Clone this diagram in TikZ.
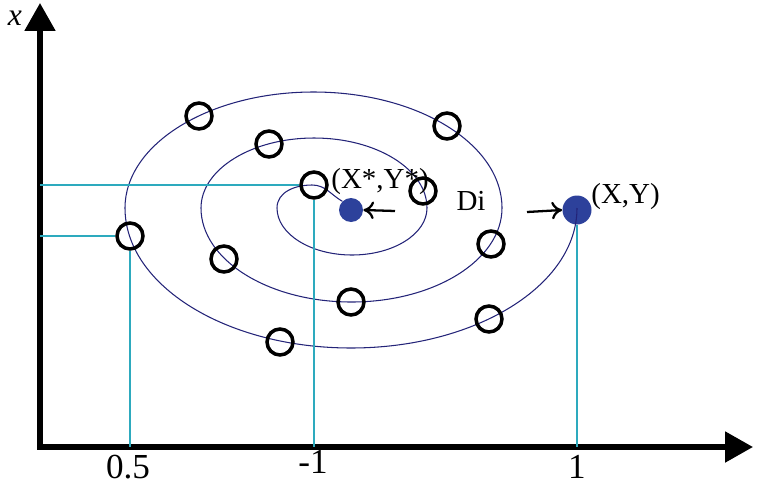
\documentclass[tikz,border=0pt]{standalone}
\usepackage{fontspec}
\setmainfont{Liberation Serif}
\usepackage{tikz}
\usetikzlibrary{arrows.meta,positioning,calc}
\definecolor{navy}{RGB}{35,35,120}
\definecolor{dotblue}{RGB}{45,65,155}
\definecolor{guidec}{RGB}{45,170,190}
\tikzset{
  smp/.style   = {circle, draw, minimum size=0.52cm, inner sep=0pt,
                  line width=2pt},
  bdot/.style  = {circle, fill=dotblue, minimum size=0.48cm, inner sep=0pt},
  bdotl/.style = {bdot, minimum size=0.58cm},
  axs/.style   = {line width=3pt, line join=miter,
                  {Triangle[length=0.56cm,width=0.6cm]}-{Triangle[length=0.56cm,width=0.6cm]}},
  guide/.style = {draw=guidec, line width=1.1pt},
  spir/.style  = {draw=navy, line width=0.6pt},
  arr/.style   = {line width=1.3pt, -{To[length=6pt,width=10pt]}},
  lbl/.style   = {font=\fontsize{16.5}{19}\selectfont, inner sep=0pt},
  num/.style   = {font=\fontsize{20}{22}\selectfont, inner sep=0pt},
}
\begin{document}
\begin{tikzpicture}[x=0.02cm,y=0.02cm]
  \useasboundingbox (0,0) rectangle (767,485);
  % axes
  \coordinate (o) at (40,38);
  \coordinate (ytip) at (40,482);
  \coordinate (xtip) at (753,38);
  \draw[axs] (ytip) -- (o) -- (xtip);
  \node[lbl, font=\fontsize{18}{20}\selectfont\itshape] (xl) at (15,467) {x};
  % points
  \node[bdot] (in) at (351,275) {};
  \node[bdotl] (xy) at (577,275) {};
  % spiral
  \draw[spir] (in.north west) to[out=150,in=0] (312,300) to[out=180,in=90] (277,277)
    arc[start angle=180,end angle=360,x radius=75,y radius=47]
    arc[start angle=0,end angle=180,x radius=113,y radius=70]
    arc[start angle=180,end angle=360,x radius=150.5,y radius=94]
    arc[start angle=0,end angle=180,x radius=188.5,y radius=116]
    arc[start angle=180,end angle=360,x radius=226,y radius=140];
  % samples
  \node[smp] (c1)  at (199,369) {};
  \node[smp] (c2)  at (269,341) {};
  \node[smp] (c3)  at (314,300) {};
  \node[smp] (c4)  at (423,294) {};
  \node[smp] (c5)  at (447,359) {};
  \node[smp] (c6)  at (130,249) {};
  \node[smp] (c7)  at (224,226) {};
  \node[smp] (c8)  at (351,183) {};
  \node[smp] (c9)  at (491,241) {};
  \node[smp] (c10) at (489,166) {};
  \node[smp] (c11) at (280,143) {};
  % guides
  \coordinate (ya) at (o |- c3);
  \coordinate (yb) at (o |- c6);
  \coordinate (xa) at (c6 |- o);
  \coordinate (xb) at (c3 |- o);
  \coordinate (xc) at (xy |- o);
  \draw[guide] (ya) -- (c3.west);
  \draw[guide] (c3.south) -- (xb);
  \draw[guide] (yb) -- (c6.west);
  \draw[guide] (c6.south) -- (xa);
  \draw[guide] (xy.south) -- (xc);
  % labels
  \node[lbl, anchor=west] (lstar) at (331,303) {(X*,Y*)};
  \node[lbl] (ldi) at (471,284) {Di};
  \node[lbl, anchor=west] (lxy) at (591,288) {(X,Y)};
  \coordinate (s1) at (395,274);
  \coordinate (s2) at (527,273);
  \draw[arr] (s1) -- (in.east);
  \draw[arr] (s2) -- (xy.west);
  \node[num] (t1) at (128,18) {0.5};
  \node[num] (t2) at (313,23) {-1};
  \node[num] (t3) at (577,18) {1};
\end{tikzpicture}
\end{document}
